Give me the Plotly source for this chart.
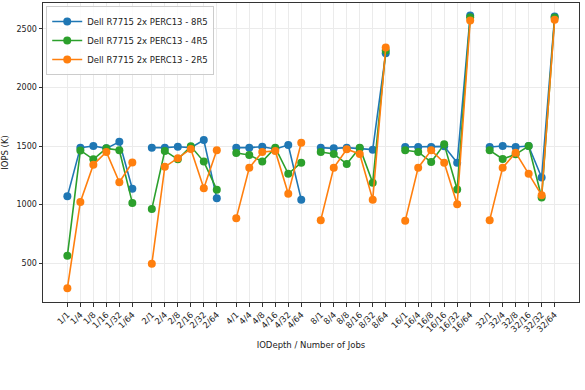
import plotly.graph_objects as go

iodepths = ["1", "2", "4", "8", "16", "32"]
jobs = ["1", "4", "8", "16", "32", "64"]

series_names = ["Dell R7715 2x PERC13 - 8R5", "Dell R7715 2x PERC13 - 4R5", "Dell R7715 2x PERC13 - 2R5"]
colors = ["#1f77b4", "#2ca02c", "#ff7f0e"]

iops_8r5 = [
    [1070, 1486, 1500, 1480, 1536, 1135],
    [1486, 1486, 1494, 1486, 1551, 1053],
    [1486, 1486, 1494, 1475, 1508, 1042],
    [1486, 1480, 1486, 1480, 1469, 2292],
    [1491, 1491, 1491, 1497, 1357, 2614],
    [1491, 1500, 1491, 1500, 1231, 2605],
]
iops_4r5 = [
    [562, 1462, 1386, 1480, 1464, 1014],
    [963, 1458, 1386, 1497, 1367, 1127],
    [1440, 1424, 1367, 1486, 1263, 1358],
    [1449, 1432, 1347, 1486, 1186, 2315],
    [1463, 1449, 1363, 1514, 1128, 2600],
    [1463, 1389, 1429, 1500, 1060, 2597],
]
iops_2r5 = [
    [285, 1022, 1340, 1449, 1190, 1359],
    [494, 1322, 1396, 1475, 1140, 1464],
    [884, 1314, 1449, 1458, 1093, 1528],
    [867, 1314, 1472, 1432, 1042, 2340],
    [861, 1315, 1463, 1357, 1003, 2571],
    [867, 1315, 1443, 1264, 1080, 2577],
]
all_series = [iops_8r5, iops_4r5, iops_2r5]

GROUP_STEP = len(jobs) + 0.5

tickvals, ticktext = [], []
for g, d in enumerate(iodepths):
    for j, n in enumerate(jobs):
        tickvals.append(g * GROUP_STEP + j)
        ticktext.append(f"{d}/{n}")

fig = go.Figure()
for name, color, data in zip(series_names, colors, all_series):
    xs, ys = [], []
    for g, row in enumerate(data):
        for j, v in enumerate(row):
            xs.append(g * GROUP_STEP + j)
            ys.append(v)
        xs.append(None)
        ys.append(None)
    fig.add_trace(go.Scatter(
        x=xs, y=ys, name=name, mode="lines+markers",
        line=dict(color=color, width=1.6),
        marker=dict(color=color, size=8),
        connectgaps=False,
    ))

xmax = tickvals[-1]
pad = xmax * 0.05
fig.update_layout(
    width=585, height=390,
    margin=dict(l=43, r=6, t=3, b=88),
    paper_bgcolor="white", plot_bgcolor="white",
    font=dict(family="DejaVu Sans", size=8, color="#222"),
    showlegend=True,
    legend=dict(x=0.006, y=0.99, xanchor="left", yanchor="top",
                bgcolor="rgba(255,255,255,0.85)", bordercolor="#cccccc", borderwidth=1,
                font=dict(size=8.5), itemwidth=30, tracegroupgap=0,
                ),
    xaxis=dict(
        tickmode="array", tickvals=tickvals, ticktext=ticktext, tickangle=-45,
        range=[-pad, xmax + pad], showgrid=True, gridcolor="#ebebeb", gridwidth=0.8,
        showline=True, linecolor="#333", linewidth=1, mirror=True,
        ticks="outside", ticklen=3.5, tickcolor="#333", zeroline=False,
        title=dict(text="IODepth / Number of Jobs", font=dict(size=8.5), standoff=8),
        tickfont=dict(size=8.5), automargin=False,
    ),
    yaxis=dict(
        range=[168, 2721], tickvals=[500, 1000, 1500, 2000, 2500],
        showgrid=True, gridcolor="#ebebeb", gridwidth=0.8,
        showline=True, linecolor="#333", linewidth=1, mirror=True,
        ticks="outside", ticklen=3.5, tickcolor="#333", zeroline=False,
        title=dict(text="IOPS (K)", font=dict(size=8.5), standoff=6),
        tickfont=dict(size=8), automargin=False,
    ),
)

fig.write_html("out.html", config={"displayModeBar": False},
               post_script="document.body.style.margin='0';")
